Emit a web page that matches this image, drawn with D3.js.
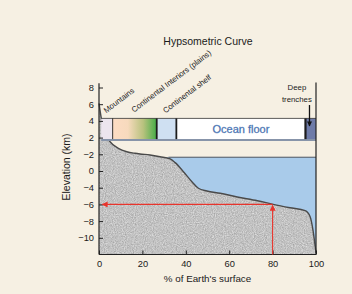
<!DOCTYPE html>
<html><head><meta charset="utf-8">
<script src="https://cdn.jsdelivr.net/npm/d3@7"></script>
<style>
body{margin:0;background:#f6f0e3;}
svg{display:block;font-family:"Liberation Sans",Arial,sans-serif;}
</style></head><body>
<svg id="chart" width="352" height="294"></svg>
<script>
// hypsometric curve: % of earth's surface above a given elevation (km)
const pctSurface = [0, 1.2, 2.8, 5.1, 8.9, 12.8, 16.6, 18.9, 23.5, 28.1, 32.8, 35.1, 38.9, 42.8, 45.8, 49.7, 55.8, 63.7, 73, 80.3, 88, 95, 97.3, 98.6, 100];
const elevation = [6.1, 4.1, 2.55, 1.5, 0.72, 0.31, 0.12, 0.04, -0.08, -0.29, -0.56, -1.0, -2.08, -3.28, -4.07, -4.4, -4.67, -5.11, -5.56, -5.99, -6.4, -6.75, -7.47, -9.07, -11.82];
const seaLevel = -0.35;

const xTicks = [0, 20, 40, 60, 80, 100];
const yTicks = [8, 6, 4, 2, 0, -2, -4, -6, -8, -10];
const yTickLabels = ["8", "6", "4", "2", "\u22122", "0", "\u22124", "\u22126", "\u22128", "\u221210"];

// zone band across the top
const zoneNames = ["Mountains", "Continental Interiors (plains)", "Continental shelf", "Ocean floor", "Deep trenches"];
const zoneFrom = [1, 6.3, 26.8, 35.8, 95.3];
const zoneTo = [6.3, 26.4, 35.5, 95, 100];
const bandTop = 4.3, bandBottom = 1.7;

// reading example (red arrows)
const readX = 80, readY = -6;

const svg = d3.select("#chart");
const x = d3.scaleLinear().domain([0, 100]).range([99, 316]);
const y = d3.scaleLinear().domain([-12, 8]).range([254.5, 87.5]);

const defs = svg.append("defs");

// speckled grey for the land/sea-floor
const f = defs.append("filter").attr("id", "stipple")
    .attr("x", 0).attr("y", 0).attr("width", 1).attr("height", 1)
    .attr("color-interpolation-filters", "sRGB");
f.append("feTurbulence").attr("type", "fractalNoise").attr("baseFrequency", 0.9)
    .attr("numOctaves", 2).attr("seed", 4).attr("result", "n");
f.append("feColorMatrix").attr("in", "n").attr("type", "matrix")
    .attr("values", "0.32 0 0 0 0.6  0.32 0 0 0 0.6  0.32 0 0 0 0.6  0 0 0 0 1").attr("result", "g");
f.append("feComposite").attr("in", "g").attr("in2", "SourceGraphic").attr("operator", "in");

const grad = defs.append("linearGradient").attr("id", "plains");
grad.append("stop").attr("offset", "0%").attr("stop-color", "#fddcc4");
grad.append("stop").attr("offset", "35%").attr("stop-color", "#f7dabd");
grad.append("stop").attr("offset", "70%").attr("stop-color", "#b8c27e");
grad.append("stop").attr("offset", "100%").attr("stop-color", "#48ad48");

defs.append("marker").attr("id", "arrow").attr("viewBox", "0 0 10 10")
    .attr("refX", 9).attr("refY", 5).attr("markerWidth", 7).attr("markerHeight", 6)
    .attr("markerUnits", "userSpaceOnUse").attr("orient", "auto")
  .append("path").attr("d", "M0,0L10,5L0,10z").attr("fill", "#e8342c");

defs.append("marker").attr("id", "arrowK").attr("viewBox", "0 0 10 10")
    .attr("refX", 9).attr("refY", 5).attr("markerWidth", 6).attr("markerHeight", 5)
    .attr("markerUnits", "userSpaceOnUse").attr("orient", "auto")
  .append("path").attr("d", "M0,0L10,5L0,10z").attr("fill", "#111");

const pts = pctSurface.map((p, i) => [p, elevation[i]]);

// ocean water
const seaStart = 30;
svg.append("rect")
    .attr("x", x(seaStart)).attr("y", y(seaLevel))
    .attr("width", x(100) - x(seaStart)).attr("height", y(-12) - y(seaLevel))
    .attr("fill", "#a9cbea");

// land area under the curve
svg.append("path").datum(pts)
    .attr("d", d3.area().x(d => x(d[0])).y0(y(-12)).y1(d => y(d[1])).curve(d3.curveMonotoneX))
    .attr("fill", "#000").attr("filter", "url(#stipple)");

svg.append("path").datum(pts)
    .attr("d", d3.line().x(d => x(d[0])).y(d => y(d[1])).curve(d3.curveMonotoneX))
    .attr("fill", "none").attr("stroke", "#4a4a4a").attr("stroke-width", 1.4);

svg.append("line")
    .attr("x1", x(seaStart + 2)).attr("x2", x(100))
    .attr("y1", y(seaLevel)).attr("y2", y(seaLevel))
    .attr("stroke", "#4d5560").attr("stroke-width", 1);

// zone band
const zoneFill = ["#ece5ee", "url(#plains)", "#cfe0f2", "#ffffff", "#6e7ba8"];
svg.selectAll(".zone").data(zoneNames).enter().append("rect")
    .attr("class", "zone")
    .attr("x", (d, i) => x(zoneFrom[i]))
    .attr("y", y(bandTop))
    .attr("width", (d, i) => x(zoneTo[i]) - x(zoneFrom[i]))
    .attr("height", y(bandBottom) - y(bandTop))
    .attr("fill", (d, i) => zoneFill[i]);

svg.append("line").attr("x1", x(zoneFrom[0])).attr("x2", x(100))
    .attr("y1", y(bandTop)).attr("y2", y(bandTop))
    .attr("stroke", "#333").attr("stroke-width", 0.8);
svg.append("line").attr("x1", x(zoneFrom[0])).attr("x2", x(100))
    .attr("y1", y(bandBottom)).attr("y2", y(bandBottom))
    .attr("stroke", "#8794a9").attr("stroke-width", 2);

const divW = [0.9, 1.8, 1.8, 2.2];
svg.selectAll(".div").data(zoneTo.slice(0, 4)).enter().append("line")
    .attr("class", "div")
    .attr("x1", (d, i) => (x(d) + x(zoneFrom[i + 1])) / 2)
    .attr("x2", (d, i) => (x(d) + x(zoneFrom[i + 1])) / 2)
    .attr("y1", y(bandTop)).attr("y2", y(bandBottom) - 1)
    .attr("stroke", "#1c1c1c").attr("stroke-width", (d, i) => divW[i]);

svg.append("text")
    .attr("x", x((zoneFrom[3] + zoneTo[3]) / 2)).attr("y", y(bandBottom) - 7)
    .attr("text-anchor", "middle").attr("font-size", 11)
    .attr("fill", "#3563a6").attr("stroke", "#6a8fc4").attr("stroke-width", 0.3)
    .text(zoneNames[3]);

// slanted zone labels
const slantAt = [[3.3, 4.9], [16.1, 4.98], [30.6, 4.9]];
svg.selectAll(".slant").data(zoneNames.slice(0, 3)).enter().append("text")
    .attr("class", "slant")
    .attr("transform", (d, i) => `translate(${x(slantAt[i][0])},${y(slantAt[i][1])}) rotate(-37)`)
    .attr("font-size", 7.8).attr("fill", "#1a1a1a")
    .text(d => d);

// deep trenches label + arrow
const dt = svg.append("text").attr("text-anchor", "middle")
    .attr("font-size", 7.8).attr("fill", "#1a1a1a");
dt.append("tspan").attr("x", x(91.2)).attr("y", y(7.7)).text("Deep");
dt.append("tspan").attr("x", x(91.2)).attr("y", y(6.3)).text("trenches");
svg.append("line").attr("x1", x(97)).attr("x2", x(97))
    .attr("y1", y(5.9)).attr("y2", y(3.4))
    .attr("stroke", "#111").attr("stroke-width", 1.3).attr("marker-end", "url(#arrowK)");

// axes
const yAxis = svg.append("g").attr("transform", `translate(${x(0)},0)`)
    .call(d3.axisLeft(y).tickValues(yTicks).tickFormat((d, i) => yTickLabels[i])
        .tickSize(-4).tickPadding(5));
yAxis.select(".domain").remove();
yAxis.selectAll("line").attr("stroke", "#222");
yAxis.selectAll("text").attr("font-size", 9.3).attr("fill", "#1a1a1a")
    .attr("font-family", "Liberation Sans, Arial, sans-serif");

const xAxis = svg.append("g").attr("transform", `translate(0,${y(-12)})`)
    .call(d3.axisBottom(x).tickValues(xTicks).tickSize(-4).tickPadding(6));
xAxis.select(".domain").remove();
xAxis.selectAll("line").attr("stroke", "#222");
xAxis.selectAll("text").attr("font-size", 9.3).attr("fill", "#1a1a1a")
    .attr("font-family", "Liberation Sans, Arial, sans-serif");

svg.append("line").attr("x1", x(0)).attr("x2", x(0))
    .attr("y1", y(8.5)).attr("y2", y(-12)).attr("stroke", "#222").attr("stroke-width", 1.2);
svg.append("line").attr("x1", x(0)).attr("x2", x(100))
    .attr("y1", y(-12)).attr("y2", y(-12)).attr("stroke", "#222").attr("stroke-width", 1.2);
svg.append("line").attr("x1", x(100)).attr("x2", x(100))
    .attr("y1", y(8.6)).attr("y2", y(-12)).attr("stroke", "#222").attr("stroke-width", 1.2);

// red reading arrows
svg.append("line").attr("x1", x(readX)).attr("x2", x(readX))
    .attr("y1", y(-12)).attr("y2", y(readY) + 1)
    .attr("stroke", "#e8342c").attr("stroke-width", 1.1).attr("marker-end", "url(#arrow)");
svg.append("line").attr("x1", x(readX)).attr("x2", x(1.5))
    .attr("y1", y(readY)).attr("y2", y(readY))
    .attr("stroke", "#e8342c").attr("stroke-width", 1.1).attr("marker-end", "url(#arrow)");

// titles
svg.append("text").attr("x", 208).attr("y", 45).attr("text-anchor", "middle")
    .attr("font-size", 10.5).attr("fill", "#1a1a1a").text("Hypsometric Curve");
svg.append("text").attr("x", (x(0) + x(100)) / 2).attr("y", 281.5).attr("text-anchor", "middle")
    .attr("font-size", 9.8).attr("fill", "#1a1a1a").text("% of Earth's surface");
svg.append("text").attr("transform", `translate(69.5,${(y(8) + y(-12)) / 2 - 4}) rotate(-90)`)
    .attr("text-anchor", "middle").attr("font-size", 10.5).attr("fill", "#1a1a1a")
    .text("Elevation (km)");
</script>
</body></html>
